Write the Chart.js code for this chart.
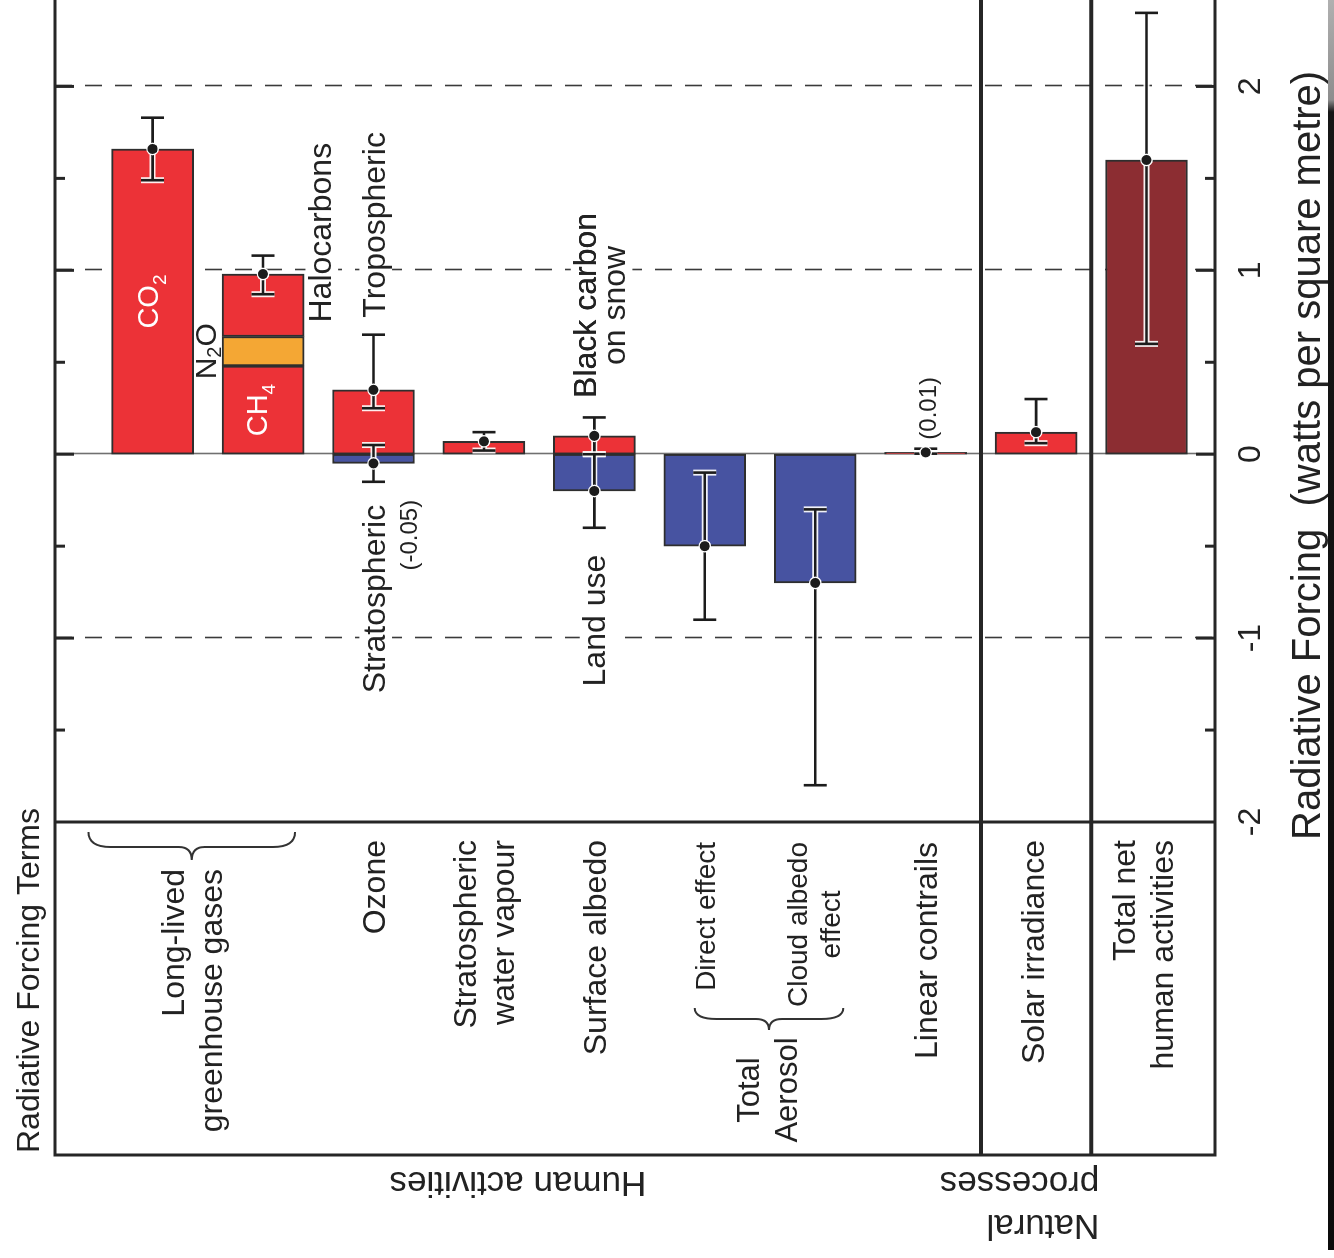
<!DOCTYPE html>
<html>
<head>
<meta charset="utf-8">
<title>Radiative Forcing Terms</title>
<script src="https://cdn.jsdelivr.net/npm/chart.js@4.4.1/dist/chart.umd.min.js"></script>
<style>
  html, body { margin: 0; padding: 0; background: #fff; }
  #page { position: relative; width: 1334px; height: 1258px; overflow: hidden; background: #fff; }
  /* the figure is laid out as a horizontal bar chart and turned a quarter turn */
  #turn { position: absolute; left: 38px; top: -38px; width: 1258px; height: 1334px;
          transform: rotate(-90deg); transform-origin: 50% 50%; }
  #edge { position: absolute; left: 1328px; top: 0; width: 6px; height: 1250px;
          background: linear-gradient(#b0b0b0 0, #8d8d8d 100px, #161616 112px, #0b0b0b 100%); }
</style>
</head>
<body>
<div id="page">
  <div id="turn"><canvas id="rf" width="1258" height="1334"></canvas></div>
  <div id="edge"></div>
</div>
<script>
// ---- data (W m-2) -------------------------------------------------------
const categories = ['CO₂', 'Long-lived greenhouse gases', 'Ozone', 'Stratospheric water vapour',
  'Surface albedo', 'Direct effect', 'Cloud albedo effect', 'Linear contrails',
  'Solar irradiance', 'Total net human activities'];

// CO2, CH4, tropospheric ozone, stratospheric water vapour, black carbon on snow, contrails, solar
const warmingTerms   = [1.66, 0.48, 0.35, 0.07, 0.10, null, null, 0.01, 0.12, null];
const n2oTerm        = [null, 0.16, null, null, null, null, null, null, null, null];
const halocarbonTerm = [null, 0.34, null, null, null, null, null, null, null, null];
// stratospheric ozone, land use, aerosol direct effect, cloud albedo effect
const coolingTerms   = [null, null, -0.05, null, -0.20, -0.50, -0.70, null, null, null];
const totalNetTerm   = [null, null, null, null, null, null, null, null, null, 1.60];

// uncertainty ranges: category slot, best estimate, low, high
const errorSlot = [0, 1, 2, 2, 3, 4, 4, 5, 6, 7, 8, 9];
const errorBest = [1.66, 0.98, 0.35, -0.05, 0.07, 0.10, -0.20, -0.50, -0.70, 0.01, 0.12, 1.60];
const errorLow  = [1.49, 0.87, 0.25, -0.15, 0.02, 0.00, -0.40, -0.90, -1.80, 0.003, 0.06, 0.60];
const errorHigh = [1.83, 1.08, 0.65, 0.05, 0.12, 0.20, 0.00, -0.10, -0.30, 0.03, 0.30, 2.40];

const forcingTicks = [-2, -1, 0, 1, 2];

// ---- styling -------------------------------------------------------------
const FONT = "'Liberation Sans', Arial, Helvetica, sans-serif";
const INK = '#222222';
const RED = '#ec3237', ORANGE = '#f4a734', BLUE = '#4753a1', DARK_RED = '#8c2d32', EDGE = '#2e2e2e';
const FRAME = '#262626';

Chart.defaults.font.family = FONT;

const toPoints = arr => arr.flatMap((v, i) => v === null ? [] : [{ x: v, y: i }]);
const barStyle = color => ({ backgroundColor: color, borderColor: EDGE, borderWidth: 2,
  borderSkipped: false, barThickness: 82 });

// ---- drawing helpers -------------------------------------------------------
function txt(ctx, str, u, v, size = 32, align = 'left', color = INK) {
  ctx.font = `${size}px ${FONT}`;
  ctx.textAlign = align;
  ctx.textBaseline = 'alphabetic';
  ctx.fillStyle = color;
  ctx.fillText(str, u, v);
}
// text on a white patch, so grid lines break around it
function boxed(ctx, str, u, v, size = 32, align = 'left') {
  ctx.font = `${size}px ${FONT}`;
  const w = ctx.measureText(str).width;
  const left = align === 'left' ? u : align === 'right' ? u - w : u - w / 2;
  ctx.fillStyle = '#fff';
  ctx.fillRect(left - 4, v - size * 0.8, w + 8, size * 1.02);
  txt(ctx, str, u, v, size, align);
}
// chemical formula with a subscript: parts like ['CO', '2'] or ['N', '2', 'O']
function formula(ctx, parts, uCentre, v, size, color, subDrop) {
  const sub = Math.round(size * 0.66);
  const widths = parts.map((p, k) => {
    ctx.font = `${k % 2 ? sub : size}px ${FONT}`;
    return ctx.measureText(p).width;
  });
  let u = uCentre - widths.reduce((a, b) => a + b, 0) / 2;
  parts.forEach((p, k) => {
    txt(ctx, p, u, k % 2 ? v + subDrop : v, k % 2 ? sub : size, 'left', color);
    u += widths[k];
  });
}
function lines(ctx, rows, u, vCentre, align, size = 32, gap = 38) {
  rows.forEach((r, k) => txt(ctx, r, u, vCentre + (k - (rows.length - 1) / 2) * gap + size * 0.36, size, align));
}
function brace(ctx, uEnd, uBody, uTip, vA, vB) {
  const vm = (vA + vB) / 2, rEnd = 22, rMid = 13;
  ctx.beginPath();
  ctx.moveTo(uEnd, vA);
  ctx.quadraticCurveTo(uBody, vA, uBody, vA + rEnd);
  ctx.lineTo(uBody, vm - rMid);
  ctx.quadraticCurveTo(uBody, vm, uTip, vm);
  ctx.quadraticCurveTo(uBody, vm, uBody, vm + rMid);
  ctx.lineTo(uBody, vB - rEnd);
  ctx.quadraticCurveTo(uBody, vB, uEnd, vB);
  ctx.strokeStyle = '#333';
  ctx.lineWidth = 2;
  ctx.stroke();
}

// ---- plugins ---------------------------------------------------------------
const PANEL_LEFT = 103;   // outer edge of the category panel

const gridPlugin = {
  id: 'forcingGrid',
  beforeDatasetsDraw(chart) {
    const { ctx, chartArea: a, scales: { x } } = chart;
    ctx.save();
    forcingTicks.forEach(t => {
      if (t === forcingTicks[0]) return;
      const u = Math.round(x.getPixelForValue(t)) + 0.5;
      ctx.beginPath();
      ctx.moveTo(u, a.top);
      ctx.lineTo(u, a.bottom);
      if (t === 0) { ctx.setLineDash([]); ctx.strokeStyle = '#707070'; ctx.lineWidth = 1.6; }
      else { ctx.setLineDash([17, 13]); ctx.strokeStyle = '#3a3a3a'; ctx.lineWidth = 1.6; }
      ctx.stroke();
    });
    ctx.restore();
  }
};

const errorBarPlugin = {
  id: 'errorBars',
  afterDatasetsDraw(chart) {
    const { ctx, scales: { x, y } } = chart;
    const cap = 11.5;
    ctx.save();
    errorSlot.forEach((slot, k) => {
      const v = y.getPixelForValue(slot);
      const u0 = x.getPixelForValue(errorLow[k]);
      const u1 = x.getPixelForValue(errorHigh[k]);
      const ub = x.getPixelForValue(errorBest[k]);
      const path = () => {
        ctx.beginPath();
        ctx.moveTo(u0, v); ctx.lineTo(u1, v);
        ctx.moveTo(u0, v - cap); ctx.lineTo(u0, v + cap);
        ctx.moveTo(u1, v - cap); ctx.lineTo(u1, v + cap);
      };
      path(); ctx.strokeStyle = 'rgba(255,255,255,0.92)'; ctx.lineWidth = 6; ctx.stroke();
      path(); ctx.strokeStyle = '#1c1c1c'; ctx.lineWidth = 2.6; ctx.stroke();
      ctx.beginPath(); ctx.arc(ub, v, 6.3, 0, Math.PI * 2); ctx.fillStyle = '#fff'; ctx.fill();
      ctx.beginPath(); ctx.arc(ub, v, 5, 0, Math.PI * 2); ctx.fillStyle = '#1c1c1c'; ctx.fill();
    });
    ctx.restore();
  }
};

const framePlugin = {
  id: 'frame',
  afterDatasetsDraw(chart) {
    const { ctx, chartArea: a, scales: { x, y } } = chart;
    ctx.save();
    ctx.strokeStyle = FRAME;
    // inward tick marks on both long edges
    ctx.lineWidth = 3;
    x.ticks.forEach(t => {
      if (t.value === forcingTicks[0]) return;
      const u = x.getPixelForValue(t.value);
      const len = Number.isInteger(t.value) ? 19 : 10;
      ctx.beginPath();
      ctx.moveTo(u, a.top); ctx.lineTo(u, a.top + len);
      ctx.moveTo(u, a.bottom); ctx.lineTo(u, a.bottom - len);
      ctx.stroke();
    });
    // outer frame and the panel line at the -2 edge
    const uAxis = x.getPixelForValue(forcingTicks[0]);
    ctx.beginPath();
    ctx.moveTo(a.right + 2, a.top); ctx.lineTo(PANEL_LEFT, a.top);
    ctx.lineTo(PANEL_LEFT, a.bottom); ctx.lineTo(a.right + 2, a.bottom);
    ctx.moveTo(uAxis, a.top); ctx.lineTo(uAxis, a.bottom);
    ctx.stroke();
    // separators: human activities | natural processes | total net
    ctx.lineWidth = 4;
    [7.5, 8.5].forEach(s => {
      const v = y.getPixelForValue(s);
      ctx.beginPath(); ctx.moveTo(PANEL_LEFT, v); ctx.lineTo(a.right + 2, v); ctx.stroke();
    });
    ctx.restore();
  }
};

const labelPlugin = {
  id: 'termLabels',
  afterDraw(chart) {
    const { ctx, scales: { x, y } } = chart;
    const X = val => x.getPixelForValue(val), Y = s => y.getPixelForValue(s);
    ctx.save();
    // labels on and beside the bars
    formula(ctx, ['CO', '2'], X(warmingTerms[0] / 2), Y(0) + 5, 29, '#fff', 8);
    formula(ctx, ['CH', '4'], X(warmingTerms[1] / 2), Y(1) + 4, 29, '#fff', 8);
    formula(ctx, ['N', '2', 'O'], X(warmingTerms[1] + n2oTerm[1] / 2), Y(1) - 47, 30, INK, 5);
    boxed(ctx, 'Halocarbons', X(warmingTerms[1] + n2oTerm[1]) + 14, Y(1) + 68);
    boxed(ctx, 'Tropospheric', X(errorHigh[2]) + 17, Y(2) + 11.5);
    boxed(ctx, 'Stratospheric', X(errorLow[3]) - 23, Y(2) + 11.5, 32, 'right');
    boxed(ctx, '(-0.05)', X(errorLow[3]) - 18, Y(2) + 44, 24, 'right');
    const bcCentre = X(errorHigh[5]) + 112;
    boxed(ctx, 'Black carbon', bcCentre, Y(4) + 2, 32, 'center');
    boxed(ctx, 'on snow', bcCentre, Y(4) + 31, 32, 'center');
    txt(ctx, 'Black carbon', bcCentre, Y(4) + 2, 32, 'center');
    boxed(ctx, 'Land use', X(errorLow[6]) - 27, Y(4) + 11, 32, 'right');
    boxed(ctx, '(0.01)', X(errorHigh[9]) + 9, Y(7) + 10, 24);

    // category panel
    const uRight = 418;
    const llA = Y(0) - 64, llB = Y(1) + 32;
    brace(ctx, 426, 411, 398, llA, llB);
    lines(ctx, ['Long-lived', 'greenhouse gases'], 389, (llA + llB) / 2, 'right');
    lines(ctx, ['Ozone'], uRight, Y(2), 'right');
    lines(ctx, ['Stratospheric', 'water vapour'], uRight, Y(3), 'right');
    lines(ctx, ['Surface albedo'], uRight, Y(4), 'right');
    txt(ctx, 'Direct effect', uRight - 2, Y(5) + 10, 28, 'right');
    ctx.font = `28px ${FONT}`;
    const cloudW = ctx.measureText('Cloud albedo').width;
    txt(ctx, 'Cloud albedo', uRight - 2, Y(6) - 8, 28, 'right');
    txt(ctx, 'effect', uRight - 2 - cloudW / 2, Y(6) + 25, 28, 'center');
    lines(ctx, ['Linear contrails'], uRight - 2, Y(7), 'right');
    lines(ctx, ['Solar irradiance'], uRight, Y(8) - 4, 'right');
    lines(ctx, ['Total net', 'human activities'], uRight, Y(9) - 4, 'right');
    const aeA = Y(5) - 10, aeB = Y(6) + 28;
    brace(ctx, 250, 239, 228, aeA, aeB);
    lines(ctx, ['Total', 'Aerosol'], 168, (aeA + aeB) / 2 - 2, 'center', 31);

    // panel title
    txt(ctx, 'Radiative Forcing Terms', 105, 39, 32);

    // group captions along the outer edge
    const groups = [
      { rows: ['Human activities'], v: (Y(y.min) + Y(7.5)) / 2, align: 'center' },
      { rows: ['Natural', 'processes'], v: Y(8.5) + 8, align: 'left' }
    ];
    groups.forEach(g => {
      g.rows.forEach((r, k) => {
        const uBase = 86 - (g.rows.length - 1 - k) * 43;
        ctx.save();
        ctx.translate(uBase, g.v);
        ctx.rotate(-Math.PI / 2);
        txt(ctx, r, 0, 0, 35, g.align);
        ctx.restore();
      });
    });

    // value-axis title
    txt(ctx, 'Radiative Forcing  (watts per square metre)', 418, 1320, 40);
    ctx.restore();
  }
};

// ---- chart -----------------------------------------------------------------
new Chart(document.getElementById('rf'), {
  type: 'bar',
  data: {
    labels: categories,
    datasets: [
      { label: 'CO₂, CH₄, ozone, water vapour, black carbon, contrails, solar', data: toPoints(warmingTerms), ...barStyle(RED) },
      { label: 'N₂O', data: toPoints(n2oTerm), ...barStyle(ORANGE) },
      { label: 'Halocarbons', data: toPoints(halocarbonTerm), ...barStyle(RED) },
      { label: 'Negative forcing', data: toPoints(coolingTerms), ...barStyle(BLUE) },
      { label: 'Total net human activities', data: toPoints(totalNetTerm), ...barStyle(DARK_RED) }
    ]
  },
  options: {
    responsive: false,
    animation: false,
    devicePixelRatio: 1,
    indexAxis: 'y',
    layout: { padding: { left: 436, right: 0, top: 55, bottom: 0 } },
    plugins: { legend: { display: false }, tooltip: { enabled: false } },
    scales: {
      x: {
        type: 'linear', position: 'bottom', min: -2, max: 2.47, stacked: true,
        grid: { display: false, drawTicks: false },
        border: { display: false },
        ticks: {
          stepSize: 0.5, includeBounds: false, autoSkip: false, maxRotation: 0, minRotation: 0,
          padding: 17, color: INK, font: { family: FONT, size: 32 },
          callback: v => forcingTicks.includes(v) ? String(v) : ''
        },
        afterFit: s => { s.height = 119; }
      },
      y: {
        type: 'linear', min: -0.884, max: 9.62, reverse: true, stacked: true, display: false,
        offset: false, grid: { offset: false }
      }
    }
  },
  plugins: [gridPlugin, errorBarPlugin, framePlugin, labelPlugin]
});
</script>
</body>
</html>
